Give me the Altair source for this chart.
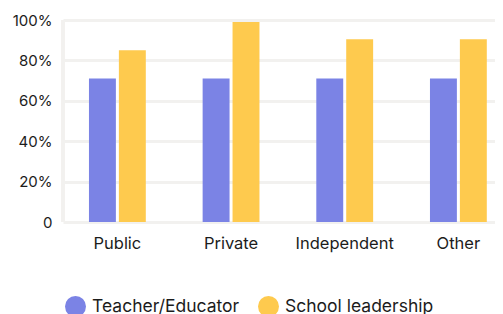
import altair as alt
import pandas as pd

categories = ["Public", "Private", "Independent", "Other"]
series = ["Teacher/Educator", "School leadership"]
teacher = [71, 71, 71, 71]
leadership = [85, 99, 90.5, 90.5]
colors = ["#7B83E5", "#FECA4E"]

rows = []
for c, t, l in zip(categories, teacher, leadership):
    rows.append({"cat": c, "series": series[0], "value": t})
    rows.append({"cat": c, "series": series[1], "value": l})
df = pd.DataFrame(rows)

FONT = "Inter"
TEXT = "#1c1c1c"
GRID = "#f2f1ef"

chart = alt.Chart(df).mark_bar().encode(
    x=alt.X("cat:N", sort=categories, title=None,
            scale=alt.Scale(paddingInner=0.5, paddingOuter=0.1503, align=0.76),
            axis=alt.Axis(labelAngle=0, labelFontSize=16.5, labelFont=FONT, labelColor=TEXT,
                          labelPadding=13, ticks=False, domain=False, grid=False)),
    xOffset=alt.XOffset("series:N", sort=series,
                        scale=alt.Scale(paddingInner=0.1, paddingOuter=0)),
    y=alt.Y("value:Q", title=None,
            scale=alt.Scale(domain=[0, 100], nice=False),
            axis=alt.Axis(values=[0, 20, 40, 60, 80, 100],
                          labelExpr="datum.value == 0 ? '0' : datum.value + '%'",
                          labelFontSize=15, labelFont=FONT, labelColor=TEXT,
                          labelPadding=11, ticks=False, domain=False,
                          grid=True, gridColor=GRID, gridWidth=3)),
    color=alt.Color("series:N", sort=series,
                    scale=alt.Scale(domain=series, range=colors),
                    legend=alt.Legend(title=None, orient="none", direction="horizontal",
                                      legendX=2, legendY=276,
                                      symbolType="circle", symbolSize=441,
                                      symbolStrokeWidth=0, symbolOpacity=1,
                                      labelFontSize=17.5, labelFont=FONT, labelColor=TEXT,
                                      labelOffset=6, columnPadding=18)),
)

left_rule = alt.Chart(df).mark_rule(color=GRID, strokeWidth=3).encode(
    x=alt.value(0), y=alt.value(0), y2=alt.value(202)
)

final = alt.layer(left_rule, chart).properties(
    width=432, height=202,
    autosize=alt.AutoSizeParams(type="none"),
    padding={"left": 55, "top": 12, "right": 0, "bottom": 92},
).configure_view(stroke=None).configure_axis(labelFont=FONT)

final.save("out.html", embed_options={"renderer": "svg", "actions": False})
